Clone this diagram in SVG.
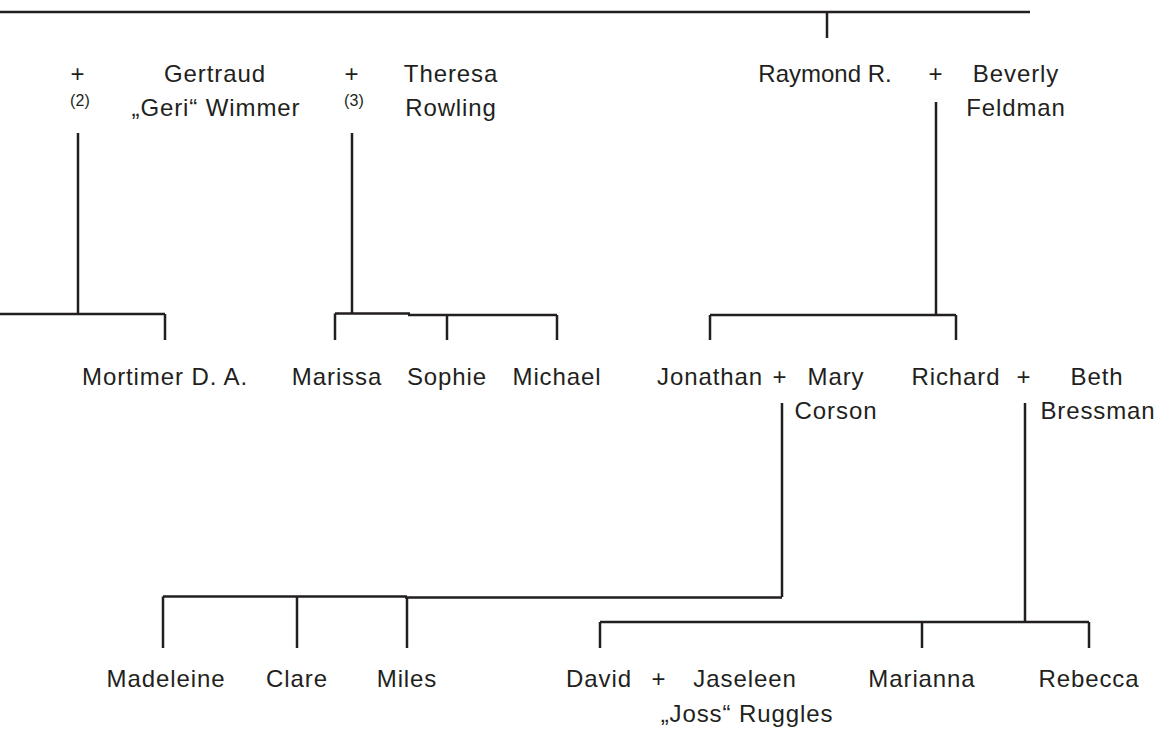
<svg xmlns="http://www.w3.org/2000/svg" width="1157" height="732" viewBox="0 0 1157 732">
<style>
.bg{fill:#ffffff}
.ln{fill:none;stroke:#231f20;stroke-width:2.5;stroke-linecap:butt}
text{font-family:"Liberation Sans","Helvetica",Arial,sans-serif;font-size:24px;fill:#231f20;text-anchor:middle;letter-spacing:0.9px}
text.sup{font-size:16px;letter-spacing:0.2px}
</style>
<rect class="bg" x="0" y="0" width="1157" height="732"/>
<g id="connectors">
<path class="ln" d="M0 12 H1030"/>
<path class="ln" d="M827 12 V38"/>
<path class="ln" d="M78 133 V314 M0 314 H165 M165 314 V340"/>
<path class="ln" d="M352 133 V314 M335 313.5 H410 M408 315 H557 M335 313.5 V340 M447 315 V340 M557 315 V340"/>
<path class="ln" d="M936 102 V315 M710 315 H956 M710 315 V340 M956 315 V340"/>
<path class="ln" d="M782 403 V597 M163 596.5 H407 M405 597.5 H782 M163 596.5 V648 M297 596.5 V648 M407 597 V648"/>
<path class="ln" d="M1025 403 V622 M600 622 H1089 M600 622 V648 M922 622 V648 M1089 622 V648"/>
</g>
<g id="couple-geri"><text x="78" y="82">+</text><text class="sup" x="80" y="106">(2)</text></g>
<g id="gertraud"><text x="215" y="82">Gertraud</text><text x="216" y="116">„Geri“ Wimmer</text></g>
<g id="couple-theresa"><text x="352" y="82">+</text><text class="sup" x="354" y="106">(3)</text></g>
<g id="theresa"><text x="451" y="82">Theresa</text><text x="451" y="116">Rowling</text></g>
<g id="raymond"><text x="825" y="82" style="letter-spacing:0px">Raymond R.</text></g>
<g id="couple-raymond"><text x="936" y="82">+</text></g>
<g id="beverly"><text x="1016" y="82">Beverly</text><text x="1016" y="116">Feldman</text></g>
<g id="mortimer"><text x="165" y="385">Mortimer D. A.</text></g>
<g id="marissa"><text x="337" y="385">Marissa</text></g>
<g id="sophie"><text x="447" y="385">Sophie</text></g>
<g id="michael"><text x="557" y="385">Michael</text></g>
<g id="jonathan"><text x="710" y="385">Jonathan</text></g>
<g id="couple-jonathan"><text x="780" y="385">+</text></g>
<g id="mary"><text x="836" y="385">Mary</text><text x="836" y="419">Corson</text></g>
<g id="richard"><text x="956" y="385">Richard</text></g>
<g id="couple-richard"><text x="1024" y="385">+</text></g>
<g id="beth"><text x="1097" y="385">Beth</text><text x="1098" y="419">Bressman</text></g>
<g id="madeleine"><text x="166" y="687">Madeleine</text></g>
<g id="clare"><text x="297" y="687">Clare</text></g>
<g id="miles"><text x="407" y="687">Miles</text></g>
<g id="david"><text x="599" y="687">David</text></g>
<g id="couple-david"><text x="659" y="687">+</text></g>
<g id="jaseleen"><text x="745" y="687">Jaseleen</text><text x="747" y="722">„Joss“ Ruggles</text></g>
<g id="marianna"><text x="922" y="687">Marianna</text></g>
<g id="rebecca"><text x="1089" y="687">Rebecca</text></g>
</svg>
